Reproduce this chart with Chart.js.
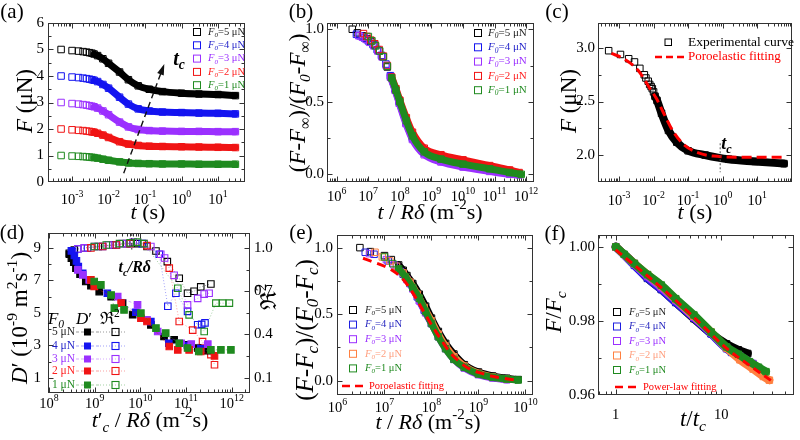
<!DOCTYPE html>
<html>
<head>
<meta charset="utf-8">
<script src="https://cdn.jsdelivr.net/npm/chart.js@4.4.1/dist/chart.umd.min.js"></script>
<style>
  html, body { margin: 0; padding: 0; background: #fff; }
  #wrap { position: relative; width: 800px; height: 440px; overflow: hidden; background: #fff; }
  #wrap canvas { position: absolute; left: 0; top: 0; }
</style>
</head>
<body>
<div id="wrap"></div>
<script>
// ---------- data ----------
const F0 = [5, 4, 3, 2, 1];

// (a) relaxation curves F(t)
const aT = [5e-4, 1e-3, 1.5e-3, 2e-3, 2.5e-3, 3e-3, 3.5e-3, 4e-3, 5e-3, 7e-3, 1e-2, 2e-2, 3.5e-2, 6.5e-2, 0.13, 0.3, 1, 3, 10, 30];
const aF5 = [5.0, 4.96, 4.94, 4.92, 4.9, 4.88, 4.86, 4.83, 4.77, 4.65, 4.48, 4.15, 3.86, 3.63, 3.5, 3.41, 3.35, 3.32, 3.3, 3.26];
const aF4 = [4.0, 3.96, 3.94, 3.92, 3.9, 3.88, 3.86, 3.84, 3.79, 3.68, 3.54, 3.2, 2.94, 2.76, 2.68, 2.64, 2.62, 2.6, 2.59, 2.57];
const aF3 = [3.0, 2.96, 2.94, 2.92, 2.9, 2.88, 2.86, 2.84, 2.79, 2.68, 2.54, 2.26, 2.08, 1.98, 1.94, 1.92, 1.91, 1.91, 1.9, 1.9];
const aF2 = [2.0, 1.97, 1.95, 1.94, 1.92, 1.91, 1.89, 1.88, 1.84, 1.77, 1.68, 1.52, 1.43, 1.38, 1.35, 1.34, 1.33, 1.32, 1.31, 1.3];
const aF1 = [1.0, 0.98, 0.97, 0.96, 0.95, 0.94, 0.93, 0.92, 0.9, 0.86, 0.82, 0.76, 0.72, 0.7, 0.69, 0.68, 0.68, 0.67, 0.67, 0.67];
const aArrowT = [0.026, 0.316];
const aArrowF = [0.33, 4.35];

// (b) normalised curves vs t/R delta
const bX5 = [3.1e6, 4.5e6, 6.5e6, 9e6, 1.2e7, 1.6e7, 2.2e7, 2.9e7, 4e7, 5.2e7, 7e7, 9.5e7, 1.55e8, 2.5e8, 5.9e8, 2e9, 1e10, 7e10, 3e11, 6e11];
const bY5 = [1.0, 0.975, 0.955, 0.935, 0.915, 0.89, 0.85, 0.81, 0.74, 0.67, 0.59, 0.51, 0.37, 0.26, 0.156, 0.11, 0.076, 0.045, 0.018, 0.005];
const bX4 = [4.2e6, 5.5e6, 7.5e6, 1e7, 1.4e7, 1.9e7, 2.6e7, 3.6e7, 5e7, 7e7, 9.5e7, 1.55e8, 2.5e8, 5.9e8, 2e9, 1e10, 7e10, 3e11, 6e11];
const bY4 = [0.965, 0.955, 0.94, 0.92, 0.895, 0.86, 0.82, 0.76, 0.68, 0.59, 0.5, 0.36, 0.25, 0.145, 0.1, 0.068, 0.036, 0.012, 0.0];
const bX3 = [5e6, 6.5e6, 8.5e6, 1.1e7, 1.5e7, 2e7, 2.7e7, 3.7e7, 5e7, 7e7, 9.5e7, 1.55e8, 2.5e8, 5.9e8, 2e9, 1e10, 7e10, 3e11, 6e11];
const bY3 = [0.955, 0.945, 0.93, 0.91, 0.885, 0.85, 0.81, 0.75, 0.67, 0.58, 0.49, 0.35, 0.24, 0.135, 0.085, 0.05, 0.02, 0.0, -0.004];
const bX2 = [7e6, 9e6, 1.2e7, 1.6e7, 2.2e7, 3e7, 4e7, 5.5e7, 7.5e7, 1e8, 1.6e8, 2.5e8, 5.9e8, 2e9, 1e10, 7e10, 3e11, 6e11];
const bY2 = [0.97, 0.95, 0.925, 0.9, 0.86, 0.815, 0.75, 0.67, 0.59, 0.51, 0.39, 0.29, 0.18, 0.135, 0.1, 0.06, 0.03, 0.012];
const bX1 = [1e7, 1.3e7, 1.7e7, 2.3e7, 3e7, 4e7, 5.5e7, 7.5e7, 1e8, 1.6e8, 2.5e8, 5.9e8, 2e9, 1e10, 7e10, 3e11, 7e11];
const bY1 = [0.95, 0.92, 0.885, 0.85, 0.81, 0.745, 0.665, 0.58, 0.5, 0.37, 0.265, 0.155, 0.105, 0.07, 0.038, 0.012, 0.0];

// (c) one experimental curve + poroelastic fit
const cT = [5e-4, 1.1e-3, 1.9e-3, 2.8e-3, 4e-3, 5.4e-3, 6e-3, 7e-3, 7.7e-3, 8.5e-3, 9.2e-3, 1e-2, 1.1e-2, 1.26e-2, 1.7e-2, 2.7e-2, 4.7e-2, 0.1, 0.31, 1.5, 8.7, 60];
const cF = [2.975, 2.94, 2.9, 2.87, 2.81, 2.75, 2.72, 2.69, 2.66, 2.64, 2.62, 2.59, 2.55, 2.51, 2.39, 2.23, 2.12, 2.04, 2.0, 1.96, 1.94, 1.92];
const cFitT = [6e-4, 1.2e-3, 1.9e-3, 3.6e-3, 7.9e-3, 1.2e-2, 1.9e-2, 3.7e-2, 8e-2, 0.2, 0.54, 4.5, 58];
const cFitF = [2.95, 2.91, 2.87, 2.79, 2.62, 2.53, 2.4, 2.22, 2.09, 2.02, 1.99, 1.98, 1.98];
const cTc = 0.85;

// (d) D' (filled) and R^2 (open) vs t'c/R delta
const dX5 = [2.8e8, 3.1e8, 3.5e8, 3.9e8, 4.8e8, 6.4e8, 8.3e8, 1.26e9, 2.3e9, 4.1e9, 6.8e9, 1.7e10, 3.3e10, 5.5e10, 1.08e11, 1.8e11, 3e11];
const dD5 = [8.61, 8.37, 8.12, 7.75, 7.38, 6.93, 6.68, 6.31, 6.0, 5.6, 4.88, 4.26, 3.54, 3.34, 3.03, 2.83, 2.66];
const dX4 = [3.1e8, 3.6e8, 4e8, 4.4e8, 5.5e8, 1.9e9, 8e9, 1.7e10, 4.2e10, 1.08e11, 2.1e11];
const dD4 = [8.82, 8.53, 8.2, 7.85, 7.44, 6.21, 5.04, 4.46, 3.13, 2.99, 2.78];
const dX3 = [4.3e8, 5.5e8, 7.6e8, 3.2e9, 8.7e9, 1.4e10, 2.4e10, 7.8e10, 1.3e11, 3e11];
const dD3 = [7.65, 7.34, 7.03, 6.0, 5.49, 4.57, 3.85, 3.13, 3.07, 3.07];
const dX2 = [8.3e8, 9.8e8, 3.8e9, 1.03e10, 1.4e10, 4.3e10, 6.6e10, 1.17e11, 2.1e11, 4.2e11];
const dD2 = [7.03, 6.62, 5.6, 4.67, 4.47, 2.93, 2.72, 2.72, 2.62, 2.35];
const dX1 = [9.8e8, 1.37e9, 2.3e9, 2.7e9, 4.4e9, 1.03e10, 2.2e10, 3.6e10, 7.1e10, 1.08e11, 1.9e11, 3.5e11, 5.8e11, 9.6e11];
const dD1 = [6.93, 6.72, 6.1, 5.29, 5.18, 4.98, 4.06, 3.75, 3.13, 2.83, 2.62, 2.72, 2.72, 2.72];
const dRX5 = [2.8e8, 3.6e8, 6e8, 1.2e9, 2.5e9, 5e9, 8.7e9, 1.4e10, 2.2e10, 3.9e10, 7.1e10, 1.08e11, 1.5e11, 2.1e11, 3.5e11];
const dR5 = [0.963, 0.986, 1.0, 1.01, 1.02, 1.03, 1.03, 1.01, 0.979, 0.905, 0.79, 0.686, 0.7, 0.73, 0.75];
const dRX4 = [3.3e8, 4.3e8, 7e8, 1.5e9, 3e9, 6e9, 1.1e10, 2.6e10, 4e10, 6e10, 1.08e11, 1.8e11, 2.2e11, 2.6e11];
const dR4 = [0.974, 0.993, 1.0, 1.01, 1.02, 1.03, 1.03, 0.956, 0.596, 0.686, 0.56, 0.467, 0.47, 0.48];
const dRX3 = [4.3e8, 6e8, 1e9, 2e9, 4e9, 7e9, 1.2e10, 1.7e10, 2.8e10, 3.4e10, 5.5e10, 1.08e11, 1.8e11, 2.5e11, 3.2e11];
const dR3 = [0.993, 1.0, 1.01, 1.02, 1.03, 1.04, 1.03, 1.01, 0.956, 0.93, 0.81, 0.605, 0.65, 0.68, 0.686];
const dRX2 = [8.3e8, 1.5e9, 3e9, 6e9, 1.4e10, 4.3e10, 7.1e10, 1.4e11, 2.3e11, 3.5e11, 4.2e11];
const dR2 = [1.0, 1.01, 1.02, 1.03, 1.016, 0.86, 0.49, 0.43, 0.35, 0.26, 0.19];
const dRX1 = [9.8e8, 1.8e9, 3.5e9, 6e9, 8.7e9, 1.2e10, 6.6e10, 1.17e11, 2.5e11, 4.5e11, 6.3e11, 8.9e11];
const dR1 = [1.01, 1.02, 1.03, 1.035, 1.04, 1.03, 0.72, 0.536, 0.42, 0.617, 0.617, 0.617];
const dTc = 6.5e9;

// (e) normalised by Fc
const eX5 = [3e6, 5e6, 1e7, 1.4e7, 2e7, 2.5e7, 3e7, 4e7, 5.5e7, 7.5e7, 1e8, 1.4e8, 2e8, 3e8, 5e8, 1e9, 2e9, 4e9, 7e9];
const eY5 = [1.0, 0.97, 0.94, 0.91, 0.87, 0.83, 0.79, 0.73, 0.65, 0.56, 0.47, 0.37, 0.28, 0.2, 0.12, 0.065, 0.035, 0.018, 0.008];
const eX4 = [3.9e6, 6e6, 1.2e7, 1.8e7, 2.5e7, 3.5e7, 5e7, 7e7, 1e8, 1.4e8, 2e8, 3e8, 5e8, 1e9, 2e9, 4e9];
const eY4 = [0.965, 0.95, 0.9, 0.86, 0.8, 0.73, 0.63, 0.53, 0.43, 0.34, 0.25, 0.17, 0.1, 0.05, 0.025, 0.01];
const eX3 = [4.8e6, 1.1e7, 1.6e7, 2.2e7, 3e7, 4e7, 5.5e7, 7.5e7, 1e8, 1.4e8, 2e8, 3e8, 5e8, 1e9, 2e9, 4e9];
const eY3 = [0.955, 0.91, 0.87, 0.82, 0.76, 0.69, 0.6, 0.51, 0.43, 0.33, 0.24, 0.16, 0.095, 0.045, 0.02, 0.007];
const eX2 = [6.3e6, 9e6, 1.3e7, 1.8e7, 2.5e7, 3.5e7, 5e7, 7e7, 1e8, 1.4e8, 2e8, 3e8, 5e8, 1e9, 2e9, 4e9];
const eY2 = [0.965, 0.93, 0.9, 0.86, 0.81, 0.74, 0.65, 0.55, 0.45, 0.35, 0.26, 0.18, 0.11, 0.055, 0.028, 0.012];
const eX1 = [1e7, 1.5e7, 2e7, 2.8e7, 4e7, 5.5e7, 7.5e7, 1e8, 1.4e8, 2e8, 3e8, 5e8, 1e9, 2e9, 4e9, 7e9];
const eY1 = [0.93, 0.88, 0.84, 0.78, 0.7, 0.62, 0.52, 0.43, 0.33, 0.24, 0.16, 0.1, 0.05, 0.025, 0.012, 0.005];
const eFitX = [3.5e6, 5e6, 1e7, 1.6e7, 2.5e7, 4e7, 6.3e7, 1e8, 1.6e8, 2.5e8, 4e8, 6.3e8, 1.3e9, 2.5e9, 6.3e9];
const eFitY = [0.92, 0.9, 0.86, 0.82, 0.76, 0.66, 0.54, 0.42, 0.31, 0.21, 0.14, 0.09, 0.05, 0.025, 0.005];

// (f) F/Fc vs t/tc
const fX5 = [1, 1.5, 2, 2.7, 3.7, 5.5, 8, 11.2, 14.5, 17.8];
const fY5 = [1.0, 0.9955, 0.9915, 0.9885, 0.985, 0.9806, 0.9766, 0.9738, 0.9722, 0.9712];
const fX4 = [1, 1.5, 2, 2.7, 3.7, 5.5, 8, 11.2, 12.5];
const fY4 = [1.0, 0.995, 0.9915, 0.9885, 0.985, 0.9808, 0.9765, 0.9725, 0.9715];
const fX3 = [1, 1.5, 2, 2.7, 3.7, 5.5, 8, 11.2, 15, 20];
const fY3 = [1.0, 0.9953, 0.992, 0.989, 0.9855, 0.981, 0.9768, 0.9728, 0.9705, 0.9685];
const fX2 = [1, 1.5, 2, 2.7, 3.7, 5.5, 8, 11.2, 15, 20, 25, 28.5];
const fY2 = [1.0, 0.9955, 0.9925, 0.9895, 0.9858, 0.9813, 0.977, 0.9727, 0.9695, 0.967, 0.965, 0.964];
const fX1 = [1, 1.2, 1.5, 2, 2.7, 3.7, 5.5, 8, 11.2, 14.5, 18.5, 22.5, 26.5];
const fY1 = [1.0, 0.998, 0.9955, 0.9925, 0.9897, 0.986, 0.9816, 0.977, 0.973, 0.971, 0.969, 0.9675, 0.9663];
const fFitX = [1, 2.7, 5.5, 11.2, 18.5, 30.6];
const fFitY = [0.9992, 0.989, 0.981, 0.9726, 0.968, 0.9636];

// ---------- helpers ----------
const FONT = '"Liberation Serif", "Times New Roman", serif';
const colA = ['#000000', '#1414f0', '#9b30ff', '#f01414', '#1f8a1f'];
const txtA = ['#222222', '#1e1ec8', '#9b30ff', '#ff2020', '#228b22'];
const colE = ['#000000', '#1e1ee0', '#9b30ff', '#ff8040', '#1f8a1f'];
const txtE = ['#222222', '#2828c0', '#9b30ff', '#ffa080', '#228b22'];
const wrap = document.getElementById('wrap');

const zip = (xs, ys) => xs.map((x, i) => ({ x, y: ys[i] }));
function alpha(hex, a) {
  const n = parseInt(hex.slice(1), 16);
  return `rgba(${n >> 16},${(n >> 8) & 255},${n & 255},${a})`;
}
function S(t, st, c) {
  st = st || '';
  return { t, i: st.includes('i'), b: st.includes('b'), sub: st.includes('_'), sup: st.includes('^'), c };
}
function segFont(s, size) {
  const z = (s.sub || s.sup) ? size * 0.68 : size;
  return (s.b ? 'bold ' : '') + (s.i ? 'italic ' : '') + z.toFixed(1) + 'px ' + FONT;
}
function rich(ctx, segs, x, y, size, align, color, rot) {
  ctx.save();
  ctx.translate(x, y);
  if (rot) ctx.rotate(rot);
  let w = 0;
  segs.forEach(s => { ctx.font = segFont(s, size); w += ctx.measureText(s.t).width; });
  let cx = align === 'center' ? -w / 2 : align === 'right' ? -w : 0;
  ctx.textBaseline = 'middle';
  ctx.textAlign = 'left';
  segs.forEach(s => {
    ctx.font = segFont(s, size);
    ctx.fillStyle = s.c || color || '#000';
    const dy = s.sub ? size * 0.3 : s.sup ? -size * 0.36 : 0;
    ctx.fillText(s.t, cx, dy);
    cx += ctx.measureText(s.t).width;
  });
  ctx.restore();
}
const pow10 = e => [S('10'), S(String(e), '^')];
function decades(e0, e1) { const o = []; for (let e = e0; e <= e1; e++) o.push(Math.pow(10, e)); return o; }
function logMinor(e0, e1) {
  const o = [];
  for (let e = e0; e <= e1; e++) for (let k = 2; k <= 9; k++) o.push(k * Math.pow(10, e));
  return o;
}
function steps(a, b, s) { const o = []; for (let v = a; v <= b + 1e-9; v += s) o.push(+v.toFixed(6)); return o; }

function bandSet(xs, ys, color, from, width, order) {
  return {
    data: zip(xs, ys), showLine: true, borderColor: color, borderWidth: width,
    cubicInterpolationMode: 'monotone', borderJoinStyle: 'round', borderCapStyle: 'round',
    pointStyle: 'rect', pointRadius: 4.6, pointBorderWidth: 1, pointBorderColor: color,
    pointBackgroundColor: 'rgba(0,0,0,0)', order,
    segment: { borderColor: c => (c.p0.parsed.x < from ? 'rgba(0,0,0,0)' : undefined) }
  };
}
function fitSet(xs, ys, dash) {
  return {
    data: zip(xs, ys), showLine: true, borderColor: '#ff0000', borderWidth: 3,
    borderDash: dash, pointRadius: 0, cubicInterpolationMode: 'monotone', order: -1
  };
}
function dSet(xs, ys, col, filled, axis, dash, order) {
  return {
    data: zip(xs, ys), yAxisID: axis, showLine: true, borderColor: alpha(col, 0.45),
    borderWidth: 0.9, borderDash: dash, pointStyle: 'rect', pointRadius: 4.6,
    pointBorderWidth: 1.1, pointBorderColor: col,
    pointBackgroundColor: filled ? col : 'rgba(0,0,0,0)', order
  };
}

function forceLegend(ctx, x, y0, dy, cols, txts, size, gap) {
  F0.forEach((f, i) => {
    const y = y0 + i * dy;
    ctx.lineWidth = 1;
    ctx.strokeStyle = cols[i];
    ctx.strokeRect(x - 3.5, y - 3.5, 7, 7);
    const c = txts[i];
    rich(ctx, [S('F', 'i', c), S('0', 'i_', c), S('=' + f + ' μN', '', c)], x + gap, y, size, 'left');
  });
}
function fitLegend(ctx, x0, x1, y, text, size, dash) {
  ctx.save();
  ctx.strokeStyle = '#ff0000'; ctx.lineWidth = 2.5; ctx.setLineDash(dash);
  ctx.beginPath(); ctx.moveTo(x0, y); ctx.lineTo(x1, y); ctx.stroke();
  ctx.restore();
  rich(ctx, [S(text, '', '#ff0000')], x1 + 3, y, size, 'left');
}

// frame, ticks, labels, titles
function deco(cfg) {
  return {
    id: 'deco',
    afterDatasetsDraw(chart) {
      const ctx = chart.ctx, a = chart.chartArea;
      const xs = chart.scales.x, ys = chart.scales.y, y2 = chart.scales.y2;
      ctx.save();
      ctx.strokeStyle = '#333';
      ctx.lineWidth = 1;
      ctx.setLineDash([]);
      const L = Math.round(a.left) + 0.5, R = Math.round(a.right) - 0.5;
      const T = Math.round(a.top) + 0.5, B = Math.round(a.bottom) - 0.5;
      ctx.strokeRect(L, T, R - L, B - T);
      const line = (x1, y1, x2, y2_) => { ctx.beginPath(); ctx.moveTo(x1, y1); ctx.lineTo(x2, y2_); ctx.stroke(); };
      const xt = (v, len) => {
        const p = Math.round(xs.getPixelForValue(v)) + 0.5;
        if (p < L || p > R) return;
        line(p, B, p, B - len); line(p, T, p, T + len);
      };
      cfg.xMajor.forEach(v => xt(v, 5));
      cfg.xMinor.forEach(v => xt(v, 3));
      const yt = (sc, v, len, left, right) => {
        const p = Math.round(sc.getPixelForValue(v)) + 0.5;
        if (p < T - 0.1 || p > B + 0.1) return;
        if (left) line(L, p, L + len, p);
        if (right) line(R, p, R - len, p);
      };
      cfg.yMajor.forEach(v => yt(ys, v, 5, true, !y2));
      cfg.yMinor.forEach(v => yt(ys, v, 3, true, !y2));
      if (y2) {
        cfg.y2Major.forEach(v => yt(y2, v, 5, false, true));
        cfg.y2Minor.forEach(v => yt(y2, v, 3, false, true));
        cfg.y2Major.forEach((v, i) => rich(ctx, [S(cfg.y2Lab[i])], cfg.y2LabX, y2.getPixelForValue(v), 15, 'left'));
      }
      cfg.xMajor.forEach((v, i) => {
        if (cfg.xLab[i]) rich(ctx, cfg.xLab[i], xs.getPixelForValue(v), cfg.xLabY, 14.5, 'center');
      });
      cfg.yMajor.forEach((v, i) => rich(ctx, [S(cfg.yLab[i])], cfg.yLabX, ys.getPixelForValue(v), 15, 'right'));
      cfg.titles.forEach(t => rich(ctx, t.segs, t.x, t.y, t.size, 'center', '#000', t.rot ? -Math.PI / 2 : 0));
      if (cfg.extra) cfg.extra(ctx, chart);
      ctx.restore();
    }
  };
}

function makePanel(cfg) {
  const cv = document.createElement('canvas');
  cv.width = 800; cv.height = 440;
  wrap.appendChild(cv);
  const scales = {
    x: { type: cfg.xLog ? 'logarithmic' : 'linear', min: cfg.xMin, max: cfg.xMax, display: false },
    y: { type: 'linear', min: cfg.yMin, max: cfg.yMax, display: false }
  };
  if (cfg.y2Min !== undefined) scales.y2 = { type: 'linear', min: cfg.y2Min, max: cfg.y2Max, display: false };
  return new Chart(cv, {
    type: 'scatter',
    data: { datasets: cfg.datasets },
    options: {
      responsive: false, animation: false, events: [],
      layout: { padding: { left: cfg.box[0], top: cfg.box[1], right: 800 - cfg.box[2], bottom: 440 - cfg.box[3] } },
      plugins: { legend: { display: false }, tooltip: { enabled: false } },
      scales
    },
    plugins: [deco(cfg)]
  });
}

const titleTS = [S('t', 'i'), S(' (s)')];
const titleFuN = [S('F', 'i'), S(' (μN)')];
const titleTRd = [S('t', 'i'), S(' / '), S('R', 'i'), S('δ', 'i'), S(' (m'), S('-2', '^'), S('s)')];

// ---------- (a) ----------
const aSeries = [aF5, aF4, aF3, aF2, aF1];
makePanel({
  box: [48, 23, 245, 182], xLog: true, xMin: Math.pow(10, -3.66), xMax: Math.pow(10, 1.74), yMin: 0, yMax: 6,
  datasets: aSeries.map((ys, i) => bandSet(aT, ys, colA[i], 4e-3, 7, i)),
  xMajor: decades(-3, 1), xMinor: logMinor(-4, 1), xLab: [-3, -2, -1, 0, 1].map(pow10), xLabY: 200,
  yMajor: steps(0, 6, 1), yMinor: steps(0.5, 5.5, 1), yLab: ['0', '1', '2', '3', '4', '5', '6'], yLabX: 44,
  titles: [
    { segs: [S('(a)')], x: 12, y: 12, size: 21 },
    { segs: titleFuN, x: 26, y: 101, size: 23, rot: true },
    { segs: titleTS, x: 148, y: 213, size: 22 }
  ],
  extra(ctx, chart) {
    const xs = chart.scales.x, ys = chart.scales.y;
    const x0 = xs.getPixelForValue(aArrowT[0]), y0 = ys.getPixelForValue(aArrowF[0]);
    const x1 = xs.getPixelForValue(aArrowT[1]), y1 = ys.getPixelForValue(aArrowF[1]);
    ctx.save();
    ctx.strokeStyle = '#111'; ctx.lineWidth = 1.4; ctx.setLineDash([6, 4]);
    ctx.beginPath(); ctx.moveTo(x0, y0); ctx.lineTo(x1, y1); ctx.stroke();
    ctx.setLineDash([]);
    const ang = Math.atan2(y1 - y0, x1 - x0);
    ctx.fillStyle = '#111';
    ctx.beginPath();
    ctx.moveTo(x1 + 3 * Math.cos(ang), y1 + 3 * Math.sin(ang));
    ctx.lineTo(x1 - 8 * Math.cos(ang) + 3.5 * Math.sin(ang), y1 - 8 * Math.sin(ang) - 3.5 * Math.cos(ang));
    ctx.lineTo(x1 - 8 * Math.cos(ang) - 3.5 * Math.sin(ang), y1 - 8 * Math.sin(ang) + 3.5 * Math.cos(ang));
    ctx.closePath(); ctx.fill();
    ctx.restore();
    rich(ctx, [S('t', 'bi'), S('c', 'bi_')], x1 + 10, y1 - 7, 20, 'left');
    forceLegend(ctx, 197, 32, 13.3, colA, txtA, 10.5, 11);
  }
});

// ---------- (b) ----------
const bXs = [bX5, bX4, bX3, bX2, bX1], bYs = [bY5, bY4, bY3, bY2, bY1];
makePanel({
  box: [327, 23, 534, 182], xLog: true, xMin: Math.pow(10, 5.69), xMax: Math.pow(10, 12.25), yMin: -0.053, yMax: 1.043,
  datasets: bXs.map((xs, i) => bandSet(xs, bYs[i], colA[i], 5e7, 7, 4 - i)),
  xMajor: decades(6, 12), xMinor: logMinor(5, 12), xLab: [6, 7, 8, 9, 10, 11, 12].map(pow10), xLabY: 197,
  yMajor: [0, 0.5, 1.0], yMinor: [0.25, 0.75], yLab: ['0.0', '0.5', '1.0'], yLabX: 324,
  titles: [
    { segs: [S('(b)')], x: 301, y: 12, size: 21 },
    { segs: [S('('), S('F', 'i'), S('-'), S('F', 'i'), S('∞', '_'), S(')/('), S('F', 'i'), S('0', 'i_'), S('-'), S('F', 'i'), S('∞', '_'), S(')')], x: 299, y: 103, size: 23, rot: true },
    { segs: titleTRd, x: 430, y: 213, size: 22 }
  ],
  extra(ctx) { forceLegend(ctx, 478, 33, 14.3, colA, txtA, 11, 10); }
});

// ---------- (c) ----------
makePanel({
  box: [598, 23, 792, 182], xLog: true, xMin: Math.pow(10, -3.61), xMax: Math.pow(10, 2.01), yMin: 1.748, yMax: 3.234,
  datasets: [bandSet(cT, cF, '#000000', 1.1e-2, 8, 1), fitSet(cFitT, cFitF, [10, 5])],
  xMajor: decades(-3, 1), xMinor: logMinor(-4, 2), xLab: [-3, -2, -1, 0, 1].map(pow10), xLabY: 201,
  yMajor: [2.0, 2.5, 3.0], yMinor: [1.75, 2.25, 2.75, 3.25].filter(v => v < 3.234), yLab: ['2.0', '2.5', '3.0'], yLabX: 595,
  titles: [
    { segs: [S('(c)')], x: 557, y: 12, size: 21 },
    { segs: titleFuN, x: 570, y: 101, size: 23, rot: true },
    { segs: titleTS, x: 695, y: 213, size: 22 }
  ],
  extra(ctx, chart) {
    const xs = chart.scales.x, ys = chart.scales.y;
    const px = xs.getPixelForValue(cTc);
    ctx.save();
    ctx.strokeStyle = '#555'; ctx.lineWidth = 1; ctx.setLineDash([2, 2]);
    ctx.beginPath(); ctx.moveTo(px, ys.getPixelForValue(2.11)); ctx.lineTo(px, ys.getPixelForValue(1.84)); ctx.stroke();
    ctx.restore();
    rich(ctx, [S('t', 'bi'), S('c', 'bi_')], px + 1, ys.getPixelForValue(2.1), 18, 'left');
    ctx.lineWidth = 1; ctx.strokeStyle = '#000';
    ctx.strokeRect(665, 39, 6.5, 6.5);
    rich(ctx, [S('Experimental curve')], 688, 42, 13.5, 'left');
    fitLegend(ctx, 655, 684, 57, '', 13, [7, 4]);
    rich(ctx, [S('Poroelastic fitting', '', '#ff0000')], 688, 57, 13, 'left');
  }
});

// ---------- (d) ----------
const dXs = [dX5, dX4, dX3, dX2, dX1], dDs = [dD5, dD4, dD3, dD2, dD1];
const dRXs = [dRX5, dRX4, dRX3, dRX2, dRX1], dRs = [dR5, dR4, dR3, dR2, dR1];
makePanel({
  box: [48, 233, 250, 393], xLog: true, xMin: Math.pow(10, 7.98), xMax: Math.pow(10, 12.4), yMin: 0.06, yMax: 9.92,
  y2Min: -0.006, y2Max: 1.1035,
  datasets: [
    ...dRXs.map((xs, i) => dSet(xs, dRs[i], colA[i], false, 'y2', [1, 2], 10 - i)),
    ...dXs.map((xs, i) => dSet(xs, dDs[i], colA[i], true, 'y', [3, 2], 4 - i))
  ],
  xMajor: decades(8, 12), xMinor: logMinor(7, 12), xLab: [8, 9, 10, 11, 12].map(pow10), xLabY: 404,
  yMajor: [1, 3, 5, 7, 9], yMinor: [2, 4, 6, 8], yLab: ['1', '3', '5', '7', '9'], yLabX: 41,
  y2Major: [0.1, 0.4, 0.7, 1.0], y2Minor: [0.25, 0.55, 0.85], y2Lab: ['0.1', '0.4', '0.7', '1.0'], y2LabX: 254,
  titles: [
    { segs: [S('(d)')], x: 12, y: 233, size: 21 },
    { segs: [S('D', 'i'), S('′'), S(' (10'), S('-9', '^'), S(' m'), S('2', '^'), S('s'), S('-1', '^'), S(')')], x: 21, y: 318, size: 23, rot: true },
    { segs: [S('ℜ'), S('2', '^')], x: 270, y: 297, size: 22, rot: true },
    { segs: [S('t', 'i'), S('′'), S('c', 'i_'), S(' / '), S('R', 'i'), S('δ', 'i'), S(' (m'), S('-2', '^'), S('s)')], x: 150, y: 421, size: 22 }
  ],
  extra(ctx, chart) {
    const xs = chart.scales.x, ys = chart.scales.y;
    const px = xs.getPixelForValue(dTc);
    ctx.save();
    ctx.strokeStyle = '#333'; ctx.lineWidth = 1; ctx.setLineDash([3, 2]);
    ctx.beginPath(); ctx.moveTo(px, chart.chartArea.top); ctx.lineTo(px, ys.getPixelForValue(8.9)); ctx.stroke();
    ctx.restore();
    rich(ctx, [S('t', 'bi'), S('c', 'bi_'), S('/', 'bi'), S('R', 'bi'), S('δ', 'bi')], px + 3, ys.getPixelForValue(7.77), 16, 'center');
    // legend
    rich(ctx, [S('F', 'i'), S('0', 'i_')], 56, 320, 17, 'center');
    rich(ctx, [S('D', 'i'), S('′')], 84, 320, 17, 'center');
    rich(ctx, [S('ℜ'), S('2', '^')], 110, 320, 17, 'center');
    const rowsY = [332, 346, 359, 371, 385];
    F0.forEach((f, i) => {
      const y = rowsY[i];
      rich(ctx, [S(f + ' μN', '', txtA[i])], 75, y, 11.5, 'right');
      ctx.save();
      ctx.strokeStyle = alpha(colA[i], 0.45); ctx.lineWidth = 0.9;
      ctx.setLineDash([3, 2]);
      ctx.beginPath(); ctx.moveTo(76, y); ctx.lineTo(100, y); ctx.stroke();
      ctx.setLineDash([1, 2]);
      ctx.beginPath(); ctx.moveTo(100, y); ctx.lineTo(127, y); ctx.stroke();
      ctx.setLineDash([]);
      ctx.fillStyle = colA[i]; ctx.fillRect(84, y - 3.5, 7, 7);
      ctx.strokeStyle = colA[i]; ctx.lineWidth = 1.1; ctx.strokeRect(112, y - 3.5, 7, 7);
      ctx.restore();
    });
  }
});

// ---------- (e) ----------
const eXs = [eX5, eX4, eX3, eX2, eX1], eYs = [eY5, eY4, eY3, eY2, eY1];
makePanel({
  box: [337, 235, 533, 395], xLog: true, xMin: Math.pow(10, 5.99), xMax: Math.pow(10, 10.16), yMin: -0.108, yMax: 1.095,
  datasets: [...eXs.map((xs, i) => bandSet(xs, eYs[i], colE[i], 2e7, 7, 4 - i)), fitSet(eFitX, eFitY, [9, 6])],
  xMajor: decades(6, 10), xMinor: logMinor(6, 10), xLab: [6, 7, 8, 9, 10].map(pow10), xLabY: 408,
  yMajor: [0, 0.5, 1.0], yMinor: [0.25, 0.75], yLab: ['0.0', '0.5', '1.0'], yLabX: 333,
  titles: [
    { segs: [S('(e)')], x: 301, y: 233, size: 21 },
    { segs: [S('('), S('F', 'i'), S('-'), S('F', 'i'), S('c', 'i_'), S(')/('), S('F', 'i'), S('0', 'i_'), S('-'), S('F', 'i'), S('c', 'i_'), S(')')], x: 306, y: 330, size: 25, rot: true },
    { segs: titleTRd, x: 428, y: 423, size: 22 }
  ],
  extra(ctx) {
    forceLegend(ctx, 353, 310, 14.6, colE, txtE, 10.5, 12);
    fitLegend(ctx, 342, 366, 386, 'Poroelastic fitting', 10.5, [8, 5]);
  }
});

// ---------- (f) ----------
const fXs = [fX5, fX4, fX3, fX2, fX1], fYs = [fY5, fY4, fY3, fY2, fY1];
makePanel({
  box: [598, 235, 797, 395], xLog: true, xMin: Math.pow(10, -0.168), xMax: Math.pow(10, 1.692), yMin: 0.96, yMax: 1.0032,
  datasets: [...fXs.map((xs, i) => bandSet(xs, fYs[i], colE[i], 0, 8, 4 - i)), fitSet(fFitX, fFitY, [8, 5])],
  xMajor: [1, 10], xMinor: [0.7, 0.8, 0.9, 2, 3, 4, 5, 6, 7, 8, 9, 20, 30, 40], xLab: [[S('1')], [S('10')]], xLabY: 415,
  yMajor: [0.96, 0.98, 1.0], yMinor: [0.97, 0.99], yLab: ['0.96', '0.98', '1.00'], yLabX: 595,
  titles: [
    { segs: [S('(f)')], x: 555, y: 234, size: 21 },
    { segs: [S('F', 'i'), S('/'), S('F', 'i'), S('c', 'i_')], x: 555, y: 312, size: 23, rot: true },
    { segs: [S('t', 'i'), S('/'), S('t', 'i'), S('c', 'i_')], x: 693, y: 420, size: 23 }
  ],
  extra(ctx) {
    forceLegend(ctx, 617, 312, 14.5, colE, txtE, 10.5, 12);
    fitLegend(ctx, 615, 640, 387, 'Power-law fitting', 10.5, [8, 5]);
  }
});
</script>
</body>
</html>
